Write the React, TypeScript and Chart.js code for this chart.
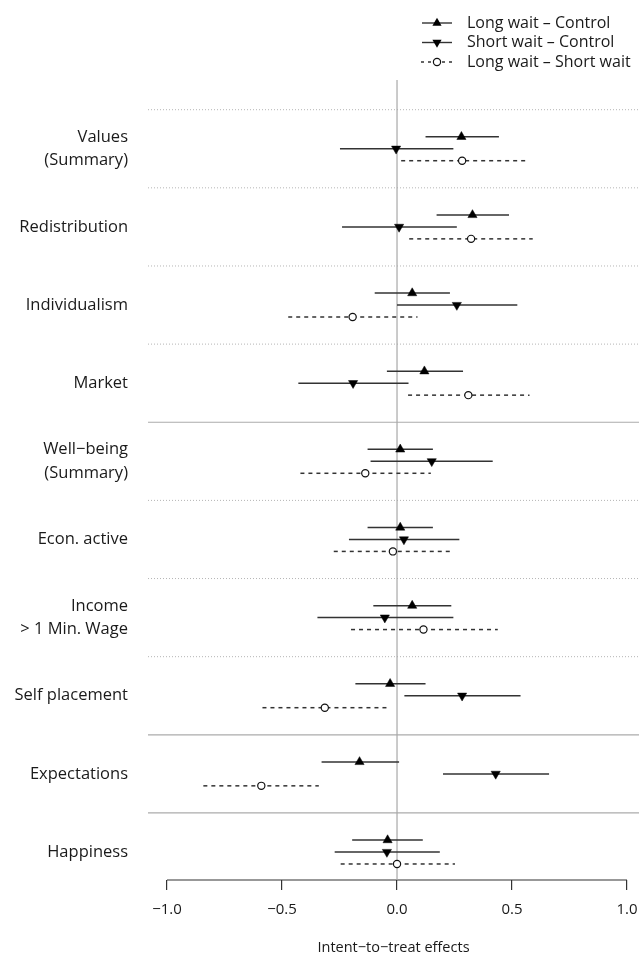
import React, { useEffect, useRef } from 'react';
import { Chart, registerables } from 'chart.js';

Chart.register(...registerables);

// ---- data ----
const categories: (string | string[])[] = [
  ['Values', '(Summary)'],
  'Redistribution',
  'Individualism',
  'Market',
  ['Well\u2212being', '(Summary)'],
  'Econ. active',
  ['Income', '> 1 Min. Wage'],
  'Self placement',
  'Expectations',
  'Happiness',
];

// Long wait – Control
const lwcEst = [0.28, 0.328, 0.066, 0.119, 0.014, 0.014, 0.066, -0.03, -0.163, -0.041];
const lwcLo = [0.124, 0.172, -0.097, -0.044, -0.128, -0.128, -0.103, -0.181, -0.328, -0.195];
const lwcHi = [0.443, 0.487, 0.23, 0.287, 0.156, 0.156, 0.236, 0.124, 0.009, 0.112];

// Short wait – Control
const swcEst = [-0.004, 0.009, 0.26, -0.191, 0.151, 0.03, -0.053, 0.283, 0.429, -0.044];
const swcLo = [-0.248, -0.239, 0.0, -0.429, -0.115, -0.209, -0.346, 0.032, 0.2, -0.271];
const swcHi = [0.245, 0.26, 0.523, 0.05, 0.416, 0.271, 0.245, 0.537, 0.661, 0.186];

// Long wait – Short wait
const lwswEst = [0.283, 0.322, -0.193, 0.31, -0.138, -0.018, 0.115, -0.314, -0.59, 0.0];
const lwswLo = [0.018, 0.053, -0.473, 0.048, -0.42, -0.275, -0.2, -0.585, -0.842, -0.245];
const lwswHi = [0.558, 0.59, 0.089, 0.576, 0.147, 0.23, 0.438, -0.044, -0.34, 0.252];

const xTicks = [-1, -0.5, 0, 0.5, 1];
const seriesLabels = ['Long wait \u2013 Control', 'Short wait \u2013 Control', 'Long wait \u2013 Short wait'];

// row positions on the y scale (top row = 10)
const rowY = (i: number) => categories.length - i;
const dottedSeparators = [10.5, 9.5, 8.5, 7.5, 5.5, 4.5, 3.5];
const solidSeparators = [6.5, 2.5, 1.5];

// ---- layout / style ----
const X_MIN = -1.0826;
const X_MAX = 1.052;
const Y_MIN = 0.642;
const Y_MAX = 10.88;
const OFF = 0.153;
const FONT = "'Open Sans', 'Noto Sans', sans-serif";
const TEXT = '#1a1a1a';
const LINE = '#333';

const fmt = (v: number) => (v < 0 ? '\u2212' : '') + Math.abs(v).toFixed(1);

function drawMarker(ctx: CanvasRenderingContext2D, kind: number, x: number, y: number) {
  ctx.save();
  ctx.setLineDash([]);
  if (kind === 2) {
    ctx.beginPath();
    ctx.arc(x, y, 3.6, 0, Math.PI * 2);
    ctx.fillStyle = '#fff';
    ctx.fill();
    ctx.lineWidth = 1.2;
    ctx.strokeStyle = '#111';
    ctx.stroke();
  } else {
    const r = 5.3;
    const s = kind === 0 ? 1 : -1;
    ctx.beginPath();
    ctx.moveTo(x, y - s * r);
    ctx.lineTo(x + 0.866 * r, y + s * 0.5 * r);
    ctx.lineTo(x - 0.866 * r, y + s * 0.5 * r);
    ctx.closePath();
    ctx.fillStyle = '#000';
    ctx.fill();
  }
  ctx.restore();
}

const legendPlugin = {
  id: 'customLegend',
  afterDraw(chart: any) {
    const ctx: CanvasRenderingContext2D = chart.ctx;
    seriesLabels.forEach((label, k) => {
      const y = 23 + k * 19.5;
      ctx.save();
      ctx.strokeStyle = LINE;
      ctx.lineWidth = 1.4;
      ctx.setLineDash(k === 2 ? [3, 4] : []);
      ctx.beginPath();
      ctx.moveTo(k === 2 ? 421 : 422, y);
      ctx.lineTo(452, y);
      ctx.stroke();
      ctx.restore();
      drawMarker(ctx, k, 437, y);
      ctx.save();
      ctx.font = `16px ${FONT}`;
      ctx.fillStyle = TEXT;
      ctx.textAlign = 'left';
      ctx.textBaseline = 'middle';
      ctx.fillText(label, 467, y);
      ctx.restore();
    });
  },
};

export default function App() {
  const ref = useRef<HTMLCanvasElement | null>(null);

  useEffect(() => {
    if (!ref.current) return;
    const datasets: any[] = [];

    // separators
    dottedSeparators.forEach((v) =>
      datasets.push({
        type: 'scatter',
        data: [{ x: X_MIN, y: v }, { x: X_MAX, y: v }],
        showLine: true,
        borderColor: '#b5b5b5',
        borderWidth: 1,
        borderDash: [1, 2],
        pointRadius: 0,
        order: 5,
      })
    );
    solidSeparators.forEach((v) =>
      datasets.push({
        type: 'scatter',
        data: [{ x: X_MIN, y: v }, { x: X_MAX, y: v }],
        showLine: true,
        borderColor: '#ababab',
        borderWidth: 1.2,
        pointRadius: 0,
        order: 5,
      })
    );
    // zero line
    datasets.push({
      type: 'scatter',
      data: [{ x: 0, y: Y_MIN }, { x: 0, y: Y_MAX }],
      showLine: true,
      borderColor: '#a8a8a8',
      borderWidth: 1.2,
      pointRadius: 0,
      order: 4,
      clip: false,
    });
    // x axis line from -1 to 1
    datasets.push({
      type: 'scatter',
      data: [{ x: xTicks[0], y: Y_MIN }, { x: xTicks[xTicks.length - 1], y: Y_MIN }],
      showLine: true,
      borderColor: '#333',
      borderWidth: 1.2,
      pointRadius: 0,
      order: 4,
      clip: false,
    });

    const series = [
      { est: lwcEst, lo: lwcLo, hi: lwcHi, off: OFF, dash: [] as number[] },
      { est: swcEst, lo: swcLo, hi: swcHi, off: 0, dash: [] as number[] },
      { est: lwswEst, lo: lwswLo, hi: lwswHi, off: -OFF, dash: [4, 4] },
    ];

    series.forEach((s) => {
      s.lo.forEach((lo, i) => {
        datasets.push({
          type: 'scatter',
          data: [{ x: lo, y: rowY(i) + s.off }, { x: s.hi[i], y: rowY(i) + s.off }],
          showLine: true,
          borderColor: LINE,
          borderWidth: 1.5,
          borderDash: s.dash,
          pointRadius: 0,
          order: 2,
        });
      });
    });

    series.forEach((s, k) => {
      datasets.push({
        type: 'scatter',
        label: seriesLabels[k],
        data: s.est.map((e, i) => ({ x: e, y: rowY(i) + s.off })),
        showLine: false,
        pointStyle: k === 2 ? 'circle' : 'triangle',
        rotation: k === 1 ? 180 : 0,
        pointRadius: k === 2 ? 3.6 : 5.3,
        pointBackgroundColor: k === 2 ? '#fff' : '#000',
        pointBorderColor: k === 2 ? '#111' : '#000',
        pointBorderWidth: k === 2 ? 1.2 : 0.5,
        order: 0,
        clip: false,
      });
    });

    const chart = new Chart(ref.current, {
      type: 'scatter',
      data: { datasets },
      plugins: [legendPlugin],
      options: {
        animation: false,
        responsive: false,
        maintainAspectRatio: false,
        layout: { autoPadding: false, padding: { top: 80, left: 0, right: 0, bottom: 0 } },
        plugins: {
          legend: { display: false },
          tooltip: { enabled: false },
          title: { display: false },
        },
        scales: {
          x: {
            type: 'linear',
            min: X_MIN,
            max: X_MAX,
            afterBuildTicks: (s: any) => {
              s.ticks = xTicks.map((v) => ({ value: v }));
            },
            afterFit: (s: any) => {
              s.height = 78;
              s.paddingLeft = 0;
              s.paddingRight = 0;
            },
            ticks: {
              callback: (v: any) => fmt(Number(v)),
              font: { family: FONT, size: 15 },
              color: TEXT,
              padding: 11,
              maxRotation: 0,
              autoSkip: false,
            },
            grid: {
              drawOnChartArea: false,
              drawTicks: true,
              tickLength: 10,
              color: '#333',
              lineWidth: 1.2,
            },
            border: { display: false },
            title: {
              display: true,
              text: 'Intent\u2212to\u2212treat effects',
              font: { family: FONT, size: 14.5 },
              color: TEXT,
              padding: { top: 0, bottom: 1 },
            },
          },
          y: {
            type: 'linear',
            min: Y_MIN,
            max: Y_MAX,
            afterBuildTicks: (s: any) => {
              s.ticks = categories.map((_, i) => ({ value: rowY(i) }));
            },
            afterFit: (s: any) => {
              s.width = 148;
              s.paddingTop = 0;
              s.paddingBottom = 0;
            },
            ticks: {
              callback: (_v: any, i: number) => categories[i] as any,
              font: { family: FONT, size: 16.5, lineHeight: 1.4 },
              color: TEXT,
              padding: 20,
              autoSkip: false,
            },
            grid: { display: false, drawTicks: false },
            border: { display: false },
          },
        },
      } as any,
    });

    return () => chart.destroy();
  }, []);

  return (
    <div style={{ position: 'absolute', left: 0, top: 0, width: 639, height: 958, background: '#fff' }}>
      <canvas ref={ref} width={639} height={958} style={{ display: 'block' }} />
    </div>
  );
}
